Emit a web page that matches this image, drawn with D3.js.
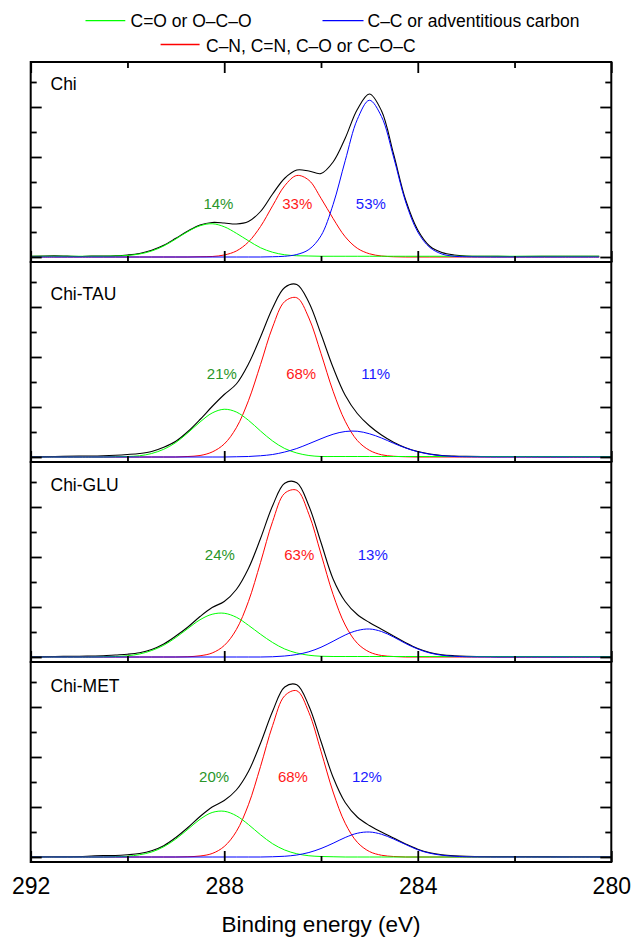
<!DOCTYPE html>
<html>
<head>
<meta charset="utf-8">
<script src="https://cdn.jsdelivr.net/npm/d3@7"></script>
<style>
  body { margin: 0; background: #fff; }
  svg { display: block; }
  text { font-family: "Liberation Sans", Arial, Helvetica, sans-serif; fill: #000; }
</style>
</head>
<body>
<svg id="chart" width="632" height="938"></svg>
<script>
// ---- Data: C 1s high-resolution spectra and their fitted components ----
// Binding energy grid (eV); intensities are in y-axis tick units.
const energy = [292, 291.5, 291, 290.75, 290.5, 290.25, 290, 289.75, 289.5, 289.25,
  289, 288.75, 288.5, 288.25, 288, 287.75, 287.5, 287.25, 287, 286.75,
  286.5, 286.25, 286, 285.75, 285.5, 285.25, 285, 284.75, 284.5, 284.25,
  284, 283.75, 283.5, 283.25, 283, 282.5, 282, 281, 280];
// the Chi scan stops a little short of 280 eV
const energyChi = [292, 291.5, 291, 290.75, 290.5, 290.25, 290, 289.75, 289.5, 289.25,
  289, 288.75, 288.5, 288.25, 288, 287.75, 287.5, 287.25, 287, 286.75,
  286.5, 286.25, 286, 285.75, 285.5, 285.25, 285, 284.75, 284.5, 284.25,
  284, 283.75, 283.5, 283.25, 283, 282.5, 282, 281, 280.25];

const sampleNames = ["Chi", "Chi-TAU", "Chi-GLU", "Chi-MET"];

// Chi
const envelopeChi = [0.03, 0.05, 0.02, 0.04, 0.04, 0.05, 0.08, 0.14, 0.27, 0.47,
  0.75, 1.04, 1.28, 1.38, 1.36, 1.32, 1.42, 1.82, 2.52, 3.15,
  3.48, 3.44, 3.34, 3.80, 4.75, 5.90, 6.52, 5.85, 4.12, 2.28,
  1.08, 0.43, 0.18, 0.08, 0.04, 0.03, 0.02, 0.03, 0.03];
const carbonylChi = [0.03, 0.03, 0.03, 0.03, 0.03, 0.04, 0.06, 0.12, 0.24, 0.44,
  0.72, 1.02, 1.25, 1.33, 1.21, 0.95, 0.65, 0.37, 0.19, 0.09,
  0.05, 0.04, 0.03, 0.03, 0.03, 0.03, 0.03, 0.03, 0.03, 0.03,
  0.03, 0.03, 0.03, 0.03, 0.03, 0.03, 0.03, 0.03, 0.03];
const nitrogenChi = [0, 0, 0, 0, 0, 0, 0, 0, 0, 0,
  0, 0, 0.01, 0.02, 0.08, 0.24, 0.60, 1.22, 2.05, 2.85,
  3.26, 3.07, 2.35, 1.54, 0.81, 0.35, 0.13, 0.04, 0.01, 0,
  0, 0, 0, 0, 0, 0, 0, 0, 0];
const carbonChi = [0, 0, 0, 0, 0, 0, 0, 0, 0, 0,
  0, 0, 0, 0, 0, 0, 0, 0, 0.01, 0.03,
  0.10, 0.30, 0.85, 2.10, 3.85, 5.50, 6.27, 5.62, 4.00, 2.20,
  1.00, 0.38, 0.12, 0.03, 0.01, 0, 0, 0, 0];

// Chi-TAU
const envelopeTau = [0.01, 0.02, 0.04, 0.04, 0.05, 0.07, 0.10, 0.14, 0.22, 0.39,
  0.63, 1.02, 1.50, 2.02, 2.50, 2.92, 3.72, 4.80, 5.96, 6.78,
  6.90, 6.18, 4.92, 3.58, 2.47, 1.74, 1.25, 0.88, 0.59, 0.37,
  0.22, 0.12, 0.06, 0.04, 0.03, 0.02, 0.02, 0.01, 0.01];
const carbonylTau = [0, 0, 0, 0, 0, 0.01, 0.02, 0.05, 0.14, 0.31,
  0.58, 0.97, 1.40, 1.76, 1.91, 1.80, 1.47, 1.04, 0.64, 0.34,
  0.16, 0.06, 0.02, 0.02, 0.02, 0.02, 0.02, 0.02, 0.02, 0.02,
  0.02, 0.02, 0.02, 0.02, 0.02, 0.02, 0.02, 0.02, 0.02];
const nitrogenTau = [0, 0, 0, 0, 0, 0, 0, 0, 0, 0,
  0, 0.02, 0.06, 0.20, 0.52, 1.17, 2.25, 3.70, 5.20, 6.22,
  6.37, 5.56, 4.14, 2.63, 1.43, 0.66, 0.27, 0.09, 0.03, 0.01,
  0, 0, 0, 0, 0, 0, 0, 0, 0];
const carbonTau = [0, 0, 0, 0, 0, 0, 0, 0, 0, 0,
  0, 0, 0, 0, 0, 0.01, 0.02, 0.05, 0.10, 0.20,
  0.34, 0.53, 0.73, 0.91, 1.02, 1.03, 0.93, 0.76, 0.55, 0.36,
  0.21, 0.11, 0.05, 0.02, 0.01, 0, 0, 0, 0];

// Chi-GLU
const envelopeGlu = [0.01, 0.02, 0.03, 0.04, 0.05, 0.08, 0.11, 0.17, 0.30, 0.52,
  0.84, 1.20, 1.62, 1.98, 2.22, 2.70, 3.54, 4.74, 6.05, 6.95,
  6.97, 6.04, 4.58, 3.12, 2.22, 1.70, 1.38, 1.11, 0.84, 0.57,
  0.34, 0.18, 0.09, 0.05, 0.03, 0.02, 0.01, 0.01, 0.01];
const carbonylGlu = [0, 0, 0, 0, 0.01, 0.02, 0.05, 0.12, 0.26, 0.47,
  0.78, 1.14, 1.49, 1.71, 1.75, 1.59, 1.27, 0.91, 0.58, 0.32,
  0.16, 0.07, 0.03, 0.02, 0.02, 0.02, 0.02, 0.02, 0.02, 0.02,
  0.02, 0.02, 0.02, 0.02, 0.02, 0.02, 0.02, 0.02, 0.02];
const nitrogenGlu = [0, 0, 0, 0, 0, 0, 0, 0, 0, 0,
  0, 0.01, 0.05, 0.16, 0.46, 1.10, 2.22, 3.78, 5.42, 6.55,
  6.67, 5.71, 4.12, 2.50, 1.28, 0.55, 0.20, 0.06, 0.02, 0,
  0, 0, 0, 0, 0, 0, 0, 0, 0];
const carbonGlu = [0, 0, 0, 0, 0, 0, 0, 0, 0, 0,
  0, 0, 0, 0, 0, 0, 0, 0, 0.01, 0.04,
  0.10, 0.21, 0.39, 0.63, 0.88, 1.06, 1.12, 1.02, 0.80, 0.54,
  0.32, 0.16, 0.07, 0.03, 0.01, 0, 0, 0, 0];

// Chi-MET
const envelopeMet = [0.01, 0.01, 0.02, 0.04, 0.06, 0.06, 0.09, 0.14, 0.25, 0.45,
  0.78, 1.18, 1.62, 2.00, 2.26, 2.68, 3.42, 4.55, 5.83, 6.80,
  6.89, 6.04, 4.62, 3.19, 2.18, 1.60, 1.26, 1.00, 0.76, 0.52,
  0.31, 0.17, 0.09, 0.05, 0.03, 0.02, 0.02, 0.01, 0.01];
const carbonylMet = [0, 0, 0, 0, 0, 0.01, 0.03, 0.09, 0.20, 0.41,
  0.72, 1.11, 1.51, 1.78, 1.83, 1.65, 1.30, 0.89, 0.53, 0.28,
  0.13, 0.05, 0.02, 0.01, 0, 0, 0, 0, 0, 0,
  0, 0, 0, 0, 0, 0, 0, 0, 0];
const nitrogenMet = [0, 0, 0, 0, 0, 0, 0, 0, 0, 0,
  0, 0.01, 0.04, 0.14, 0.42, 1.02, 2.09, 3.62, 5.26, 6.45,
  6.65, 5.78, 4.23, 2.60, 1.35, 0.59, 0.22, 0.07, 0.02, 0,
  0, 0, 0, 0, 0, 0, 0, 0, 0];
const carbonMet = [0, 0, 0, 0, 0, 0, 0, 0, 0, 0,
  0, 0, 0, 0, 0, 0, 0, 0, 0.01, 0.03,
  0.08, 0.18, 0.34, 0.55, 0.78, 0.95, 1.00, 0.91, 0.72, 0.50,
  0.29, 0.15, 0.07, 0.03, 0.01, 0, 0, 0, 0];

// component shares (%) printed in each panel
const shareCarbonyl = [14, 21, 24, 20];
const shareNitrogen = [33, 68, 63, 68];
const shareCarbon = [53, 11, 13, 12];

const componentNames = ["C=O or O\u2013C\u2013O", "C\u2013C or adventitious carbon", "C\u2013N, C=N, C\u2013O or C\u2013O\u2013C"];
const xTickValues = [292, 290, 288, 286, 284, 282, 280];
const xTickLabels = [292, 288, 284, 280];
const yTickValues = [0, 1, 2, 3, 4, 5, 6, 7];
const xTitle = "Binding energy (eV)";

// ---- Layout ----
const plotLeft = 30.7, plotRight = 611.3;
const firstTop = 62, panelH = 200;
const colors = { envelope: "#000000", carbonyl: "#00ff00", nitrogen: "#ff0000", carbon: "#0000ff" };
const labelColors = { carbonyl: "#2a962a", nitrogen: "#ff1a1a", carbon: "#1a1aff" };

const panels = [
  { name: sampleNames[0], e: energyChi, env: envelopeChi, g: carbonylChi, r: nitrogenChi, b: carbonChi, nameY: 28,
    labelU: 1.91, labelE: [288.12, 286.49, 284.97] },
  { name: sampleNames[1], e: energy, env: envelopeTau, g: carbonylTau, r: nitrogenTau, b: carbonTau, nameY: 38,
    labelU: 3.13, labelE: [288.05, 286.41, 284.87] },
  { name: sampleNames[2], e: energy, env: envelopeGlu, g: carbonylGlu, r: nitrogenGlu, b: carbonGlu, nameY: 29,
    labelU: 3.88, labelE: [288.09, 286.45, 284.93] },
  { name: sampleNames[3], e: energy, env: envelopeMet, g: carbonylMet, r: nitrogenMet, b: carbonMet, nameY: 30,
    labelU: 3.0, labelE: [288.21, 286.58, 285.05] }
];

const svg = d3.select("#chart");
const x = d3.scaleLinear().domain([292, 280]).range([plotLeft, plotRight]);

panels.forEach((p, i) => {
  const top = firstTop + i * panelH;
  const bottom = top + panelH;
  const y = d3.scaleLinear().domain([-0.2, 7.8]).range([bottom, top]);
  const g = svg.append("g").attr("class", "panel");

  const clipId = "clip" + i;
  g.append("clipPath").attr("id", clipId)
    .append("rect").attr("x", plotLeft).attr("y", top).attr("width", plotRight - plotLeft).attr("height", panelH);

  const curves = g.append("g").attr("clip-path", `url(#${clipId})`);
  const line = vals => d3.line()
    .x((d, k) => x(p.e[k]))
    .y(d => y(d))
    .curve(d3.curveCatmullRom.alpha(0.5))(vals);

  // envelope first, then the fitted components
  curves.append("path").attr("d", line(p.env)).attr("fill", "none")
    .attr("stroke", colors.envelope).attr("stroke-width", 1.1);
  curves.append("path").attr("d", line(p.r)).attr("fill", "none")
    .attr("stroke", colors.nitrogen).attr("stroke-width", 1);
  curves.append("path").attr("d", line(p.g)).attr("fill", "none")
    .attr("stroke", colors.carbonyl).attr("stroke-width", 1);
  curves.append("path").attr("d", line(p.b)).attr("fill", "none")
    .attr("stroke", colors.carbon).attr("stroke-width", 1);

  // y ticks, pointing inward on both sides
  const major = yTickValues.filter(v => v % 2 === 0);
  const minor = yTickValues.filter(v => v % 2 === 1);
  const addAxis = (axis, tx, ty) => {
    const a = g.append("g").attr("transform", `translate(${tx},${ty})`).call(axis);
    a.select(".domain").remove();
    a.selectAll("line").attr("stroke", "#000").attr("stroke-width", 1.8);
    a.selectAll("text").remove();
  };
  addAxis(d3.axisRight(y).tickValues(major).tickSize(11), plotLeft, 0);
  addAxis(d3.axisRight(y).tickValues(minor).tickSize(6), plotLeft, 0);
  addAxis(d3.axisLeft(y).tickValues(major).tickSize(11), plotRight, 0);
  addAxis(d3.axisLeft(y).tickValues(minor).tickSize(6), plotRight, 0);

  // x ticks on the bottom edge (and the top edge of the first panel)
  const xMajor = xTickValues.filter(v => v % 4 === 0);
  const xMinor = xTickValues.filter(v => v % 4 !== 0);
  addAxis(d3.axisTop(x).tickValues(xMajor).tickSize(11), 0, bottom);
  addAxis(d3.axisTop(x).tickValues(xMinor).tickSize(6), 0, bottom);
  if (i === 0) {
    addAxis(d3.axisBottom(x).tickValues(xMajor).tickSize(11), 0, top);
    addAxis(d3.axisBottom(x).tickValues(xMinor).tickSize(6), 0, top);
  }

  // frame
  g.append("rect").attr("x", plotLeft).attr("y", top)
    .attr("width", plotRight - plotLeft).attr("height", panelH)
    .attr("fill", "none").attr("stroke", "#000").attr("stroke-width", 2);

  // sample name
  g.append("text").attr("x", 50.5).attr("y", top + p.nameY)
    .attr("font-size", 17.5).text(p.name);

  // component shares
  const shares = [
    [shareCarbonyl[i], labelColors.carbonyl],
    [shareNitrogen[i], labelColors.nitrogen],
    [shareCarbon[i], labelColors.carbon]
  ];
  shares.forEach(([v, c], k) => {
    g.append("text").attr("x", x(p.labelE[k])).attr("y", y(p.labelU))
      .attr("text-anchor", "middle").attr("font-size", 15)
      .style("fill", c).text(v + "%");
  });
});

// bottom tick labels and title
const lastBottom = firstTop + panels.length * panelH;
const labelAxis = svg.append("g").attr("transform", `translate(0,${lastBottom})`)
  .call(d3.axisBottom(x).tickValues(xTickLabels).tickSize(0).tickPadding(15.5).tickFormat(d3.format("d")));
labelAxis.select(".domain").remove();
labelAxis.selectAll("text").attr("font-size", 23)
  .attr("font-family", "'Liberation Sans', Arial, sans-serif").style("fill", "#000");

svg.append("text").attr("x", (plotLeft + plotRight) / 2).attr("y", 932)
  .attr("text-anchor", "middle").attr("font-size", 22.5).text(xTitle);

// legend
const legendItems = [
  { name: componentNames[0], color: colors.carbonyl, x1: 85.5, x2: 125.3, ly: 20.7, tx: 130.5, ty: 27 },
  { name: componentNames[1], color: colors.carbon, x1: 322.5, x2: 363.5, ly: 20.7, tx: 367.5, ty: 27 },
  { name: componentNames[2], color: colors.nitrogen, x1: 160.6, x2: 199.6, ly: 44.5, tx: 206, ty: 51.5 }
];
const legend = svg.append("g").attr("class", "legend");
legendItems.forEach(it => {
  legend.append("line").attr("x1", it.x1).attr("x2", it.x2).attr("y1", it.ly).attr("y2", it.ly)
    .attr("stroke", it.color).attr("stroke-width", 1.3);
  legend.append("text").attr("x", it.tx).attr("y", it.ty).attr("font-size", 17.5).text(it.name);
});
</script>
</body>
</html>
